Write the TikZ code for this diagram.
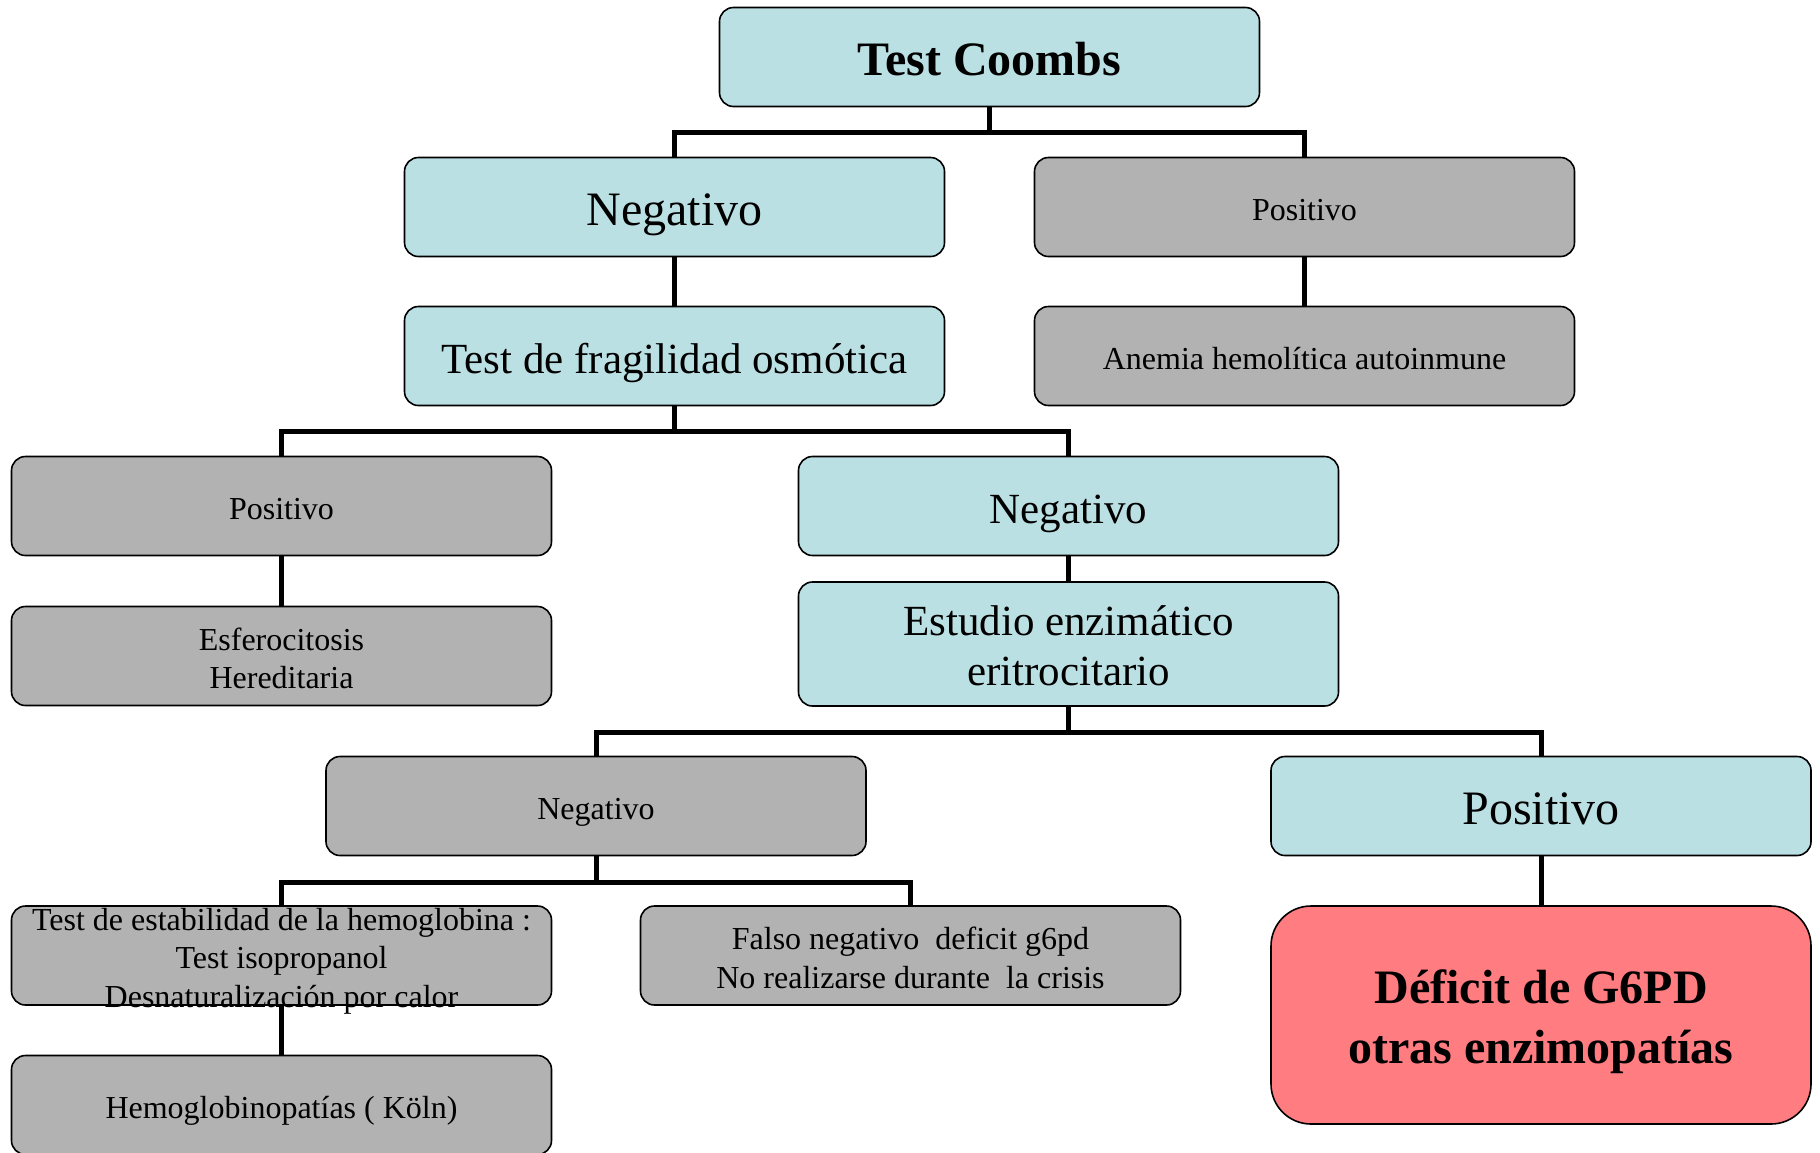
\documentclass[tikz,border=0pt]{standalone}
\usepackage{fontspec}
\setmainfont{Liberation Serif}
\definecolor{boxcyan}{HTML}{BBE0E3}
\definecolor{boxgray}{HTML}{B2B2B2}
\definecolor{boxred}{HTML}{FF7C80}
\begin{document}
\begin{tikzpicture}[x=1pt,y=-1pt,
  box/.style={draw=black, line width=1.6pt, rounded corners=14pt,
    minimum width=540pt, minimum height=99pt, inner sep=0pt, align=center},
  cyanbox/.style={box, fill=boxcyan},
  graybox/.style={box, fill=boxgray},
  redbox/.style={box, fill=boxred, rounded corners=40pt, minimum height=218pt},
  large/.style={font=\fontsize{48}{58}\selectfont, text height=37pt, text depth=0pt},
  big/.style={font=\fontsize{43}{50}\selectfont},
  bigline/.style={big, text height=34pt, text depth=0pt},
  small/.style={font=\fontsize{32}{38.5}\selectfont},
  smallline/.style={small, text height=27pt, text depth=0pt},
  heavy/.style={font=\fontsize{48}{60}\selectfont\bfseries},
  link/.style={line width=5pt, line join=miter}
]
\useasboundingbox (0,0) rectangle (1820,1152);

% boxes
\node[cyanbox, heavy, text height=36pt, text depth=0pt] (coombs) at (989.5,57) {Test Coombs};
\node[cyanbox, large] (neg1) at (674.5,207) {Negativo};
\node[graybox, smallline] (pos1) at (1304.5,207) {Positivo};
\node[cyanbox, bigline] (frag) at (674.5,356) {Test de fragilidad osmótica};
\node[graybox, smallline] (anemia) at (1304.5,356) {Anemia hemolítica autoinmune};
\node[graybox, smallline] (pos2) at (281.5,506) {Positivo};
\node[cyanbox, bigline] (neg2) at (1068.5,506) {Negativo};
\node[graybox, small, text height=65pt, text depth=0pt] (esfero) at (281.5,656) {Esferocitosis\\Hereditaria};
\node[cyanbox, big, minimum height=124pt, text height=82pt, text depth=0pt] (estudio) at (1068.5,644) {Estudio enzimático\\eritrocitario};
\node[graybox, smallline] (neg3) at (596,806) {Negativo};
\node[cyanbox, large] (pos3) at (1541,806) {Positivo};
\node[graybox] (estab) at (281.5,955.5) {};
\node[graybox, small, text height=65pt, text depth=0pt] (falso) at (910.5,955.5) {Falso negativo\ \ deficit g6pd\\No realizarse durante\ \ la crisis};
\node[graybox, smallline] (hemo) at (281.5,1105) {Hemoglobinopatías ( Köln)};
\node[redbox, heavy, text height=96pt, text depth=0pt] (deficit) at (1541,1015) {Déficit de G6PD\\otras enzimopatías};

% connectors
\draw[link] (coombs.south) -- ++(0,25) -| (neg1.north);
\draw[link] (coombs.south) -- ++(0,25) -| (pos1.north);
\draw[link] (neg1.south) -- (frag.north);
\draw[link] (pos1.south) -- (anemia.north);
\draw[link] (frag.south) -- ++(0,25) -| (pos2.north);
\draw[link] (frag.south) -- ++(0,25) -| (neg2.north);
\draw[link] (pos2.south) -- (esfero.north);
\draw[link] (neg2.south) -- (estudio.north);
\draw[link] (estudio.south) -- ++(0,26) -| (neg3.north);
\draw[link] (estudio.south) -- ++(0,26) -| (pos3.north);
\draw[link] (neg3.south) -- ++(0,26) -| (estab.north);
\draw[link] (neg3.south) -- ++(0,26) -| (falso.north);
\draw[link] (estab.south) -- (hemo.north);
\draw[link] (pos3.south) -- (deficit.north);

% text that runs past the edges of its box
\node[small, align=center, inner sep=0pt, text height=103pt, text depth=0pt] (estabtext) at (estab.center)
  {Test de estabilidad de la hemoglobina :\\Test isopropanol\\Desnaturalización por calor};
\end{tikzpicture}
\end{document}
